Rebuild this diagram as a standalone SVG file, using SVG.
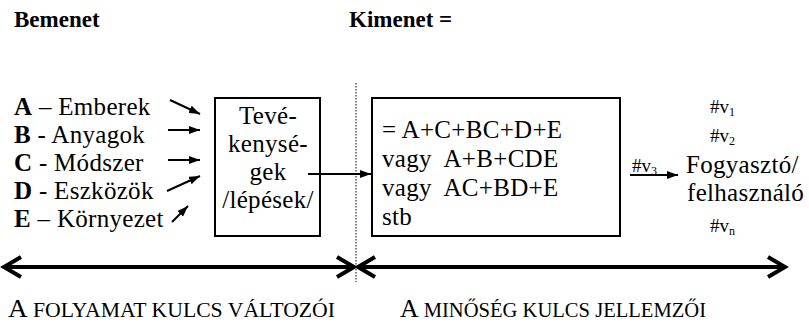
<svg xmlns="http://www.w3.org/2000/svg" width="809" height="323" viewBox="0 0 809 323">
<style>
text{font-family:"Liberation Serif","Times New Roman",serif;fill:#000}
.t{font-size:23px;font-weight:bold}
.b{font-size:25px;letter-spacing:0.3px}
.bb{font-weight:bold}
.s{font-size:19px}
.sub{font-size:12px}
.cap{font-size:20px}
.capA{font-size:25px}
.pre{white-space:pre}
.box{fill:#fff;stroke:#000;stroke-width:2}
.ar{stroke:#000;stroke-width:2;fill:none;marker-end:url(#tri)}
.big{stroke:#000;stroke-width:4;fill:none}
.dot{stroke:#000;stroke-width:1;stroke-dasharray:1.5 1.5;fill:none}
</style>
<defs>
<marker id="tri" markerWidth="11" markerHeight="8" refX="11" refY="4" orient="auto" markerUnits="userSpaceOnUse">
<path d="M0,0 L11,4 L0,8 z"/>
</marker>
</defs>

<!-- headings -->
<text class="t" x="14" y="27">Bemenet</text>
<text class="t" x="349" y="27">Kimenet =</text>

<!-- inputs -->
<g id="inputs">
<text class="b" x="14" y="115"><tspan class="bb">A</tspan> – Emberek</text>
<text class="b" x="14" y="143"><tspan class="bb">B</tspan> - Anyagok</text>
<text class="b" x="14" y="171"><tspan class="bb">C</tspan> - Módszer</text>
<text class="b" x="14" y="199"><tspan class="bb">D</tspan> - Eszközök</text>
<text class="b" x="14" y="227"><tspan class="bb">E</tspan> – Környezet</text>
</g>

<!-- activity box -->
<g id="activities">
<rect class="box" x="215" y="98" width="105" height="138"/>
<text class="b" x="268" y="124" text-anchor="middle">Tevé-</text>
<text class="b" x="268" y="152" text-anchor="middle">kenysé-</text>
<text class="b" x="268" y="180" text-anchor="middle">gek</text>
<text class="b" x="268" y="208" text-anchor="middle">/lépések/</text>
</g>

<!-- output box -->
<g id="outputs">
<rect class="box" x="372" y="98" width="248" height="138"/>
<text class="b pre" x="382" y="138">= A+C+BC+D+E</text>
<text class="b pre" x="382" y="167">vagy  A+B+CDE</text>
<text class="b pre" x="382" y="196">vagy  AC+BD+E</text>
<text class="b" x="382" y="225">stb</text>
</g>

<!-- consumer -->
<g id="consumer">
<text class="s" x="710" y="113">#v<tspan class="sub" dy="3">1</tspan></text>
<text class="s" x="710" y="142">#v<tspan class="sub" dy="3">2</tspan></text>
<text class="s" x="632" y="172">#v<tspan class="sub" dy="3">3</tspan></text>
<text class="b" x="686" y="173">Fogyasztó/</text>
<text class="b" x="687" y="201">felhasználó</text>
<text class="s" x="710" y="232">#v<tspan class="sub" dy="3">n</tspan></text>
</g>

<!-- connectors -->
<g id="connectors">
<line class="ar" x1="170" y1="100" x2="200" y2="114"/>
<line class="ar" x1="168" y1="130" x2="200" y2="130"/>
<line class="ar" x1="168" y1="160" x2="200" y2="160"/>
<line class="ar" x1="167" y1="191" x2="200" y2="176"/>
<line class="ar" x1="172" y1="222" x2="188" y2="206"/>
<line class="ar" x1="308" y1="174" x2="371" y2="174"/>
<line class="ar" x1="630" y1="175" x2="678" y2="175"/>
<line class="dot" x1="356" y1="83" x2="356" y2="282"/>
<line class="big" x1="4" y1="267" x2="353" y2="267"/>
<polyline class="big" points="21,257 4,267 21,277"/>
<polyline class="big" points="337,257 354,267 337,277"/>
<line class="big" x1="358" y1="267" x2="784" y2="267"/>
<polyline class="big" points="375,257 358,267 375,277"/>
<polyline class="big" points="768,257 785,267 768,277"/>
</g>

<!-- span captions -->
<text class="cap" x="8" y="317" textLength="327" lengthAdjust="spacingAndGlyphs"><tspan class="capA">A</tspan> FOLYAMAT KULCS VÁLTOZÓI</text>
<text class="cap" x="400" y="317" textLength="306" lengthAdjust="spacingAndGlyphs"><tspan class="capA">A</tspan> MINŐSÉG KULCS JELLEMZŐI</text>
</svg>
